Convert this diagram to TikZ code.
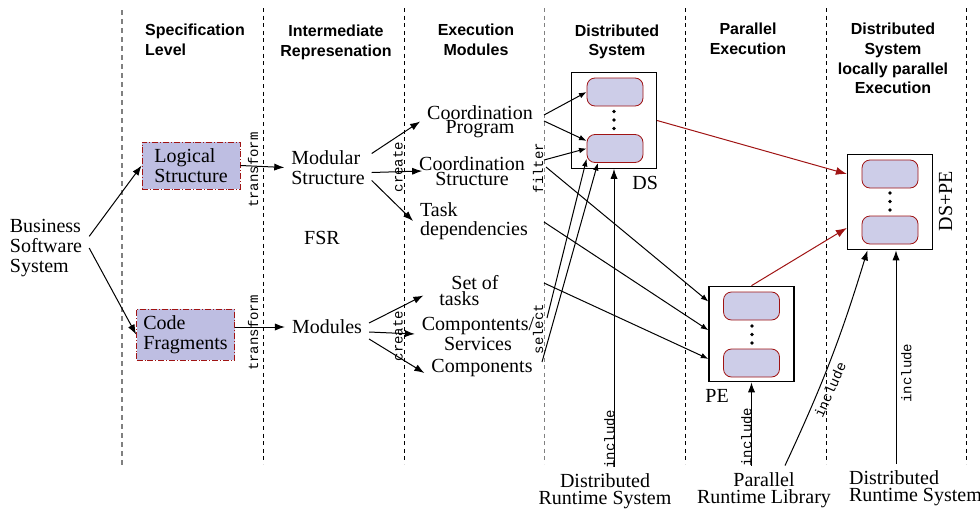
\documentclass[tikz,border=0pt]{standalone}
\usepackage{fontspec}
\setmainfont{Liberation Serif}
\setsansfont{Liberation Sans}
\setmonofont{Liberation Mono}
\usetikzlibrary{positioning, arrows.meta}
\definecolor{fragfill}{RGB}{190,190,226}
\definecolor{cellfill}{RGB}{205,205,232}
\definecolor{darkred}{RGB}{160,20,20}
\tikzset{
	head/.style={font=\sffamily\bfseries\fontsize{8}{9.8}\selectfont, align=center, inner sep=0pt},
	txt/.style={font=\fontsize{10}{9.8}\selectfont, align=center},
	tight/.style={font=\fontsize{10}{6.8}\selectfont, align=center},
	foot/.style={font=\fontsize{10}{8.3}\selectfont, align=center},
	% dash-dotted input boxes
	frag/.style={draw=darkred, densely dash dot, fill=fragfill, align=left, minimum width=49pt, minimum height=22.5pt, font=\fontsize{10}{9.8}\selectfont},
	sysbox/.style={draw, fill=white, line width=0.6pt, minimum width=42.5pt, minimum height=47.75pt},
	cell/.style={draw=darkred, fill=cellfill, rounded corners=4pt, minimum width=28pt, minimum height=14pt},
	verb/.style={font=\ttfamily\fontsize{7}{7}\selectfont, inner sep=0pt, rotate=90},
	lane/.style={dash pattern=on 2pt off 1.8pt, line width=0.5pt},
	arr/.style={-{Latex[length=5pt, width=3.6pt]}},
	sarr/.style={-{Latex[length=3.8pt, width=2.8pt]}},
	rarr/.style={darkred, -{Latex[length=5.5pt, width=4pt]}},
}

\begin{document}
\begin{tikzpicture}[x=0.5pt, y=-0.5pt]
	\useasboundingbox (0,0) rectangle (980,514);
	
	% column separators
	\draw[lane, gray, line width=0.8pt, dash pattern=on 2.5pt off 2pt] (122,10) -- (122,466);
	\draw[lane] (263,8) -- (263,464);
	\draw[lane] (404,8) -- (404,464);
	\draw[lane, gray] (544,8) -- (544,464);
	\draw[lane] (685,8) -- (685,464);
	\draw[lane] (826,8) -- (826,464);
	\draw[lane] (966,8) -- (966,464);
	
	% column headings
	\node (hspec) [head, align=left] at (195,40) {Specification\\Level};
	\node (hinter) [head] at (336,42.5) {Intermediate\\Represenation};
	\node (hexec) [head] at (476,40) {Execution\\Modules};
	\node (hdist) [head] at (617,42) {Distributed\\System};
	\node (hpar) [head] at (748,39) {Parallel\\Execution};
	\node (hdspe) [head] at (893,58.5) {Distributed\\System\\locally parallel\\Execution};
	
	% specification level
	\node (bss) [txt, align=left] at (46,248) {Business\\Software\\System};
	\node (lstruct) [frag] at (191,165.5) {Logical\\Structure};
	\node (cfrag) [frag] at (185.5,334.5) {Code\\Fragments};
	
	% intermediate representation
	\node (msn) [txt, align=left] at (328,167.5) {Modular\\Structure};
	\node (fsr) [txt] at (322,238) {FSR};
	\node (mods) [txt] at (327,327) {Modules};
	
	% execution modules
	\node (cprog) [tight] at (480,121.5) {Coordination\\Program};
	\node (cstruct) [tight, font=\fontsize{10}{7.5}\selectfont] at (472,171) {Coordination\\Structure};
	\node (taskdep) [txt, align=left] at (474,221) {Task\\dependencies};
	\node (sot) [tight, align=left] at (469,291) {\hspace{6pt}Set of\\tasks};
	\node (comps) [tight] at (478,334) {Compontents/\\Services};
	\node (comp) [txt] at (482,368) {Components};
	
	% distributed system
	\node (ds) [sysbox] at (614,120.5) {};
	\node (ds1) [cell] at (615,92) {};
	\node (ds2) [cell] at (615,148.5) {};
	\fill (614,111.5) circle (0.95pt);
	\fill (614,120) circle (0.95pt);
	\fill (614,128.5) circle (0.95pt);
	\node (dslab) [txt, below left=0pt and -4pt of ds.south east] {DS};
	
	% parallel execution
	\node (pe) [sysbox] at (751.5,334) {};
	\node (pe1) [cell] at (751.5,306) {};
	\node (pe2) [cell] at (751.5,363) {};
	\fill (752,326) circle (0.95pt);
	\fill (752,334.5) circle (0.95pt);
	\fill (752,343) circle (0.95pt);
	\node (pelab) [txt, below right=0pt and -5pt of pe.south west] {PE};
	
	% locally parallel distributed system
	\node (dspe) [sysbox] at (890,202) {};
	\node (dspe1) [cell] at (890,174) {};
	\node (dspe2) [cell] at (890,230) {};
	\fill (890,193) circle (0.95pt);
	\fill (890,201.5) circle (0.95pt);
	\fill (890,210) circle (0.95pt);
	\node (dspelab) [txt, rotate=90] at (945.5,201) {DS+PE};
	
	% runtime systems
	\node (drs1) [foot] at (605,491) {Distributed\\Runtime System};
	\node (prl) [foot] at (764,490) {Parallel\\Runtime Library};
	\node (drs2) [foot, align=left, anchor=west] at (842,488.5) {Distributed\\Runtime System};
	
	% action labels
	\node (tr1) [verb] at (253,170) {transform};
	\node (tr2) [verb] at (253,333) {transform};
	\node (cr1) [verb] at (398,167) {create};
	\node (cr2) [verb] at (398,336) {create};
	\node (filt) [verb] at (538,168) {filter};
	\node (sel) [verb] at (538,329) {select};
	\node (inc1) [verb] at (609.5,439) {include};
	\node (inc2) [verb] at (746.5,437) {include};
	\node (inc3) [verb, rotate=-24] at (830,390) {include};
	\node (inc4) [verb] at (906.5,373) {include};
	
	% ports on the filter line
	\coordinate (fcp1) at (544,115);
	\coordinate (fcp2) at (544,121);
	\coordinate (fcs1) at (544,160);
	\coordinate (fcs2) at (546,167);
	\coordinate (ftd) at (544,222);
	\coordinate (fst) at (544,283);
	\coordinate (scs) at (547,318);
	\coordinate (sco) at (542,362);
	\coordinate (drsup) at ([xshift=3pt]dspe.south);
	
	\begin{scope}[line width=0.5pt]
		\draw[arr] (bss.15) -- (lstruct.west);
		\draw[arr] (bss.east) -- (cfrag.west);
		
		\draw[arr] (lstruct.east) -- (msn.west);
		\draw[arr] (cfrag.east |- mods) -- (mods.west);
		
		\draw[arr] ([yshift=7pt]msn.east) -- (cprog.west);
		\draw[arr] ([yshift=-2.5pt]msn.east) -- ([xshift=5pt]cstruct.west);
		\draw[arr] ([yshift=-6.5pt]msn.east) -- (taskdep.west);
		
		\draw[arr, shorten >=5pt] ([yshift=2pt]mods.east) -- (sot.west);
		\draw[arr] ([yshift=-2.5pt]mods.east) -- (comps.west);
		\draw[arr] ([yshift=-6pt]mods.east) -- ([yshift=-2.5pt]comp.west);
		
		\draw[sarr] (fcp1) -- (ds1.west);
		\draw[sarr] (fcp2) -- (ds2.165);
		\draw[sarr] (fcs1) -- (ds2.west);
		\draw[sarr] (scs) -- (ds2.200);
		\draw[sarr] (sco) -- (ds2.220);
		
		\draw[sarr] (fcs2) -- (pe.143);
		\draw[sarr] (ftd) -- (pe.175);
		\draw[sarr] (fst) -- (pe.210);
		
		\draw[rarr] (ds.east) -- (dspe.147);
		\draw[rarr] (pe.north) -- (dspe.211);
		
		\draw[arr] (drs1.north -| ds.south) -- (ds.south);
		\draw[arr] (prl.north -| pe.south) -- (pe.south);
		\draw[arr] ([xshift=10.5pt]prl.north) to[bend right=4] (dspe.245);
		\draw[arr] (drsup |- drs2.north) -- (drsup);
	\end{scope}
	
\end{tikzpicture}
\end{document}
